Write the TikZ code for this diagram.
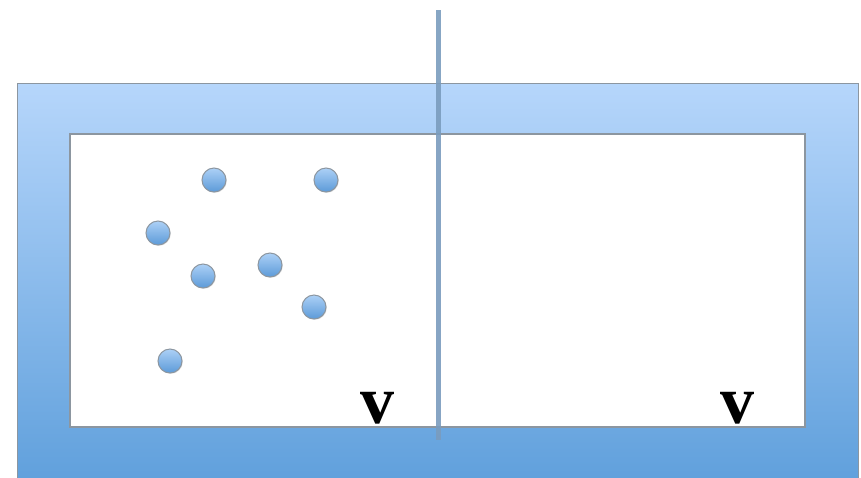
\documentclass[tikz,border=0pt]{standalone}
\usepackage{fontspec}
\setmainfont{Liberation Serif}
\usetikzlibrary{shadows}
\definecolor{frametop}{RGB}{182,214,251}
\definecolor{framebot}{RGB}{96,160,220}
\definecolor{edgegray}{RGB}{140,150,160}
\definecolor{divider}{RGB}{122,156,190}
\definecolor{dottop}{RGB}{172,208,246}
\definecolor{dotbot}{RGB}{92,154,216}
\tikzset{
  particle/.style={circle, minimum size=24pt, inner sep=0pt, top color=dottop, bottom color=dotbot, draw=edgegray, line width=1pt, drop shadow={shadow xshift=0.8pt, shadow yshift=-0.8pt, opacity=0.25}},
  vlabel/.style={font=\fontsize{68}{68}\selectfont\bfseries, inner sep=0pt, anchor=base}
}
\begin{document}
\begin{tikzpicture}[x=1pt,y=-1pt]
\useasboundingbox (0,0) rectangle (861,477);
% frame
\shade[top color=frametop, bottom color=framebot] (17,83) rectangle (858,482);
\draw[edgegray, line width=1pt] (17,482) -- (17,83) -- (858,83) -- (858,482);
\fill[white] (70,134) rectangle (805,427);
\draw[edgegray, line width=1.2pt] (70,134) rectangle (805,427);
% divider
\coordinate (dtop) at (438,10);
\coordinate (dbot) at (438,440);
\draw[divider, line width=5pt, opacity=0.9] (dtop) -- (dbot);
% particles
\node[particle] (p1) at (214,180) {};
\node[particle] (p2) at (326,180) {};
\node[particle] (p3) at (158,233) {};
\node[particle] (p4) at (203,276) {};
\node[particle] (p5) at (270,265) {};
\node[particle] (p6) at (314,307) {};
\node[particle] (p7) at (170,361) {};
% labels
\node[vlabel] (vl) at (377,423) {v};
\node[vlabel] (vr) at (737,423) {v};
\end{tikzpicture}
\end{document}
